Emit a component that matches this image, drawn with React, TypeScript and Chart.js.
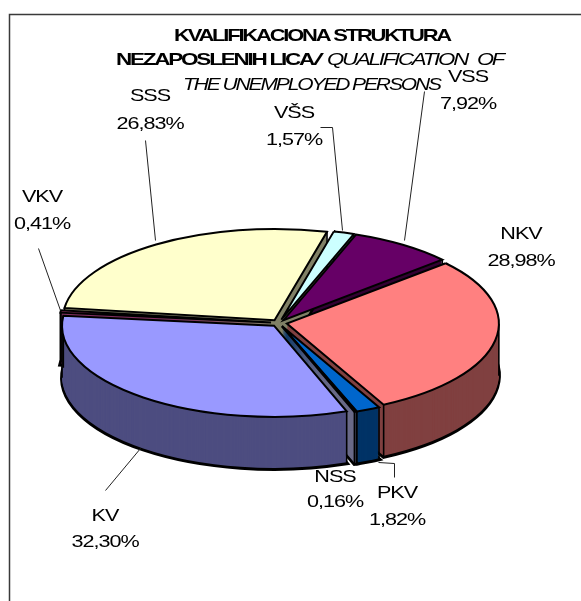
import React, { useEffect, useRef } from "react";
import { Chart, registerables } from "chart.js";

Chart.register(...registerables);

const categories = ["NKV", "PKV", "NSS", "KV", "VKV", "SSS", "VŠS", "VSS"];
const shares = [28.98, 1.82, 0.16, 32.3, 0.41, 26.83, 1.57, 7.92];
const topColors = ["#FF8080", "#0066CC", "#8080A0", "#9999FF", "#993366", "#FFFFCC", "#CCFFFF", "#660066"];
const sideColors = ["#804040", "#003366", "#6A6A88", "#4D4D80", "#803060", "#808066", "#668080", "#330033"];
// title runs: text, bold, italic, left x, right x, baseline
const titleRuns: [string, boolean, boolean, number, number, number][] = [
  ["KVALIFIKACIONA STRUKTURA", true, false, 174, 450, 41],
  ["NEZAPOSLENIH LICA", true, false, 116, 313, 65],
  ["/", false, false, 313, 320, 65],
  ["QUALIFICATION", false, true, 327, 467, 65],
  ["OF", false, true, 477, 503, 65],
  ["THE UNEMPLOYED PERSONS", false, true, 183, 440, 90],
];
// label anchors: [centre x, name baseline, value baseline]
const labelAnchors = [
  [521, 239, 266],
  [397, 498, 525],
  [335, 482, 507],
  [105, 521, 547],
  [42, 202, 229],
  [150, 101, 129],
  [294, 118, 145],
  [468, 82, 109],
];
const leaderLines = [
  [[424, 91], [404, 240]],
  [[320, 127], [332, 127], [342, 230]],
  [[145, 140], [155, 240]],
  [[38, 248], [60, 310]],
  [[378, 462], [394, 463], [394, 477]],
  [[105, 490], [140, 448]],
];

const SQUASH = 0.43;
const DEPTH = 52;
const EXPLODE = 8;
const RADIUS = 212;
const LABEL_STRETCH = 1.27;
const FONT = "Liberation Sans, Arial, sans-serif";

function patchStroke(ctx: any) {
  const origStroke = ctx.stroke;
  ctx.stroke = function () {
    const m = ctx.getTransform();
    ctx.resetTransform();
    origStroke.call(ctx);
    ctx.setTransform(m);
  };
}

function squash(ctx: any, cy: number, shift: number) {
  ctx.save();
  ctx.translate(0, cy + shift);
  ctx.scale(1, SQUASH);
  ctx.translate(0, -cy);
  patchStroke(ctx);
}

function unsquash(ctx: any) {
  delete ctx.stroke;
  ctx.restore();
}

const centreY = (chart: any) => (chart.chartArea.top + chart.chartArea.bottom) / 2;

const pie3d = {
  id: "pie3d",
  afterDatasetsUpdate(chart: any) {
    // explode every slice along its own bisector
    chart.getDatasetMeta(0).data.forEach((arc: any) => {
      const mid = (arc.startAngle + arc.endAngle) / 2;
      arc.x += Math.cos(mid) * EXPLODE;
      arc.y += Math.sin(mid) * EXPLODE;
    });
  },
  beforeDraw(chart: any) {
    const ctx = chart.ctx;
    ctx.save();
    ctx.strokeStyle = "#3a3a3a";
    ctx.lineWidth = 1.5;
    ctx.beginPath();
    ctx.moveTo(9.5, 601);
    ctx.lineTo(9.5, 14.5);
    ctx.lineTo(581, 14.5);
    ctx.stroke();
    ctx.restore();
  },
  beforeDatasetsDraw(chart: any) {
    const ctx = chart.ctx;
    const cy = centreY(chart);
    const arcs = chart.getDatasetMeta(0).data;
    const TAU = Math.PI * 2;
    const frontKey = (arc: any) => {
      let k = Math.max(Math.sin(arc.startAngle), Math.sin(arc.endAngle));
      [Math.PI / 2, Math.PI / 2 + TAU].forEach((a) => {
        if (a > arc.startAngle && a < arc.endAngle) k = 1.5;
      });
      return k;
    };
    const order = arcs
      .map((arc: any, i: number) => ({ arc, i, s: frontKey(arc) }))
      .sort((a: any, b: any) => a.s - b.s);
    order.forEach(({ arc, i }: any) => {
      const base = arc.options;
      arc.options = { ...base, backgroundColor: sideColors[i], borderColor: "#000", borderWidth: 4, borderJoinStyle: "miter" };
      squash(ctx, cy, DEPTH);
      arc.draw(ctx);
      unsquash(ctx);
      arc.options = { ...base, backgroundColor: sideColors[i], borderWidth: 0 };
      for (let d = DEPTH - 1; d >= 0; d--) {
        squash(ctx, cy, d);
        arc.draw(ctx);
        unsquash(ctx);
      }
      arc.options = base;
      // vertical edges where the wall turns
      const angles = [arc.startAngle, arc.endAngle];
      [0, Math.PI, TAU, 3 * Math.PI].forEach((a) => {
        if (a > arc.startAngle && a < arc.endAngle) angles.push(a);
      });
      ctx.save();
      ctx.strokeStyle = "#000";
      ctx.lineWidth = 1.6;
      angles.forEach((a: number) => {
        const x = arc.x + Math.cos(a) * arc.outerRadius;
        const y = cy + (arc.y + Math.sin(a) * arc.outerRadius - cy) * SQUASH;
        ctx.beginPath();
        ctx.moveTo(x, y);
        ctx.lineTo(x, y + DEPTH);
        ctx.stroke();
      });
      ctx.restore();
    });
  },
  beforeDatasetDraw(chart: any) {
    squash(chart.ctx, centreY(chart), 0);
  },
  afterDatasetDraw(chart: any) {
    unsquash(chart.ctx);
  },
  afterDraw(chart: any) {
    const ctx = chart.ctx;
    ctx.save();
    ctx.strokeStyle = "#222";
    ctx.lineWidth = 1;
    leaderLines.forEach((pts) => {
      ctx.beginPath();
      pts.forEach(([x, y], k) => (k ? ctx.lineTo(x + 0.5, y + 0.5) : ctx.moveTo(x + 0.5, y + 0.5)));
      ctx.stroke();
    });
    ctx.fillStyle = "#000";
    ctx.textBaseline = "alphabetic";
    ctx.textAlign = "left";
    // title: glyphs stretched wide and overlapping, as in the source
    ctx.letterSpacing = "-1.7px";
    titleRuns.forEach(([text, bold, italic, x0, x1, y]) => {
      ctx.font = `${italic ? "italic " : ""}${bold ? "bold " : ""}17px ${FONT}`;
      const w = ctx.measureText(text).width;
      ctx.save();
      ctx.translate(x0, y);
      ctx.scale((x1 - x0) / w, 1);
      ctx.fillText(text, 0, 0);
      ctx.restore();
    });
    // data labels
    ctx.letterSpacing = "-0.8px";
    ctx.font = `17px ${FONT}`;
    ctx.textAlign = "center";
    categories.forEach((name, i) => {
      const [x, y1, y2] = labelAnchors[i];
      [
        [name, y1],
        [shares[i].toFixed(2).replace(".", ",") + "%", y2],
      ].forEach(([t, y]: any) => {
        ctx.save();
        ctx.translate(x, y);
        ctx.scale(LABEL_STRETCH, 1);
        ctx.fillText(t, 0, 0);
        ctx.restore();
      });
    });
    ctx.restore();
  },
};

export default function App() {
  const ref = useRef<HTMLCanvasElement>(null);
  useEffect(() => {
    const chart = new Chart(ref.current!, {
      type: "pie",
      data: {
        labels: categories,
        datasets: [
          {
            data: shares,
            backgroundColor: topColors,
            borderColor: "#000",
            borderWidth: 2,
            borderJoinStyle: "miter",
            radius: RADIUS,
            clip: false,
          } as any,
        ],
      },
      options: {
        responsive: false,
        animation: false,
        rotation: 48.5,
        layout: { padding: { left: 0, right: 23, top: 45, bottom: 0 } },
        plugins: { legend: { display: false }, title: { display: false }, tooltip: { enabled: false } },
        events: [],
      },
      plugins: [pie3d],
    });
    return () => chart.destroy();
  }, []);
  return (
    <canvas
      ref={ref}
      width={581}
      height={601}
      style={{ position: "fixed", left: 0, top: 0, width: 581, height: 601, background: "#fff" }}
    />
  );
}
